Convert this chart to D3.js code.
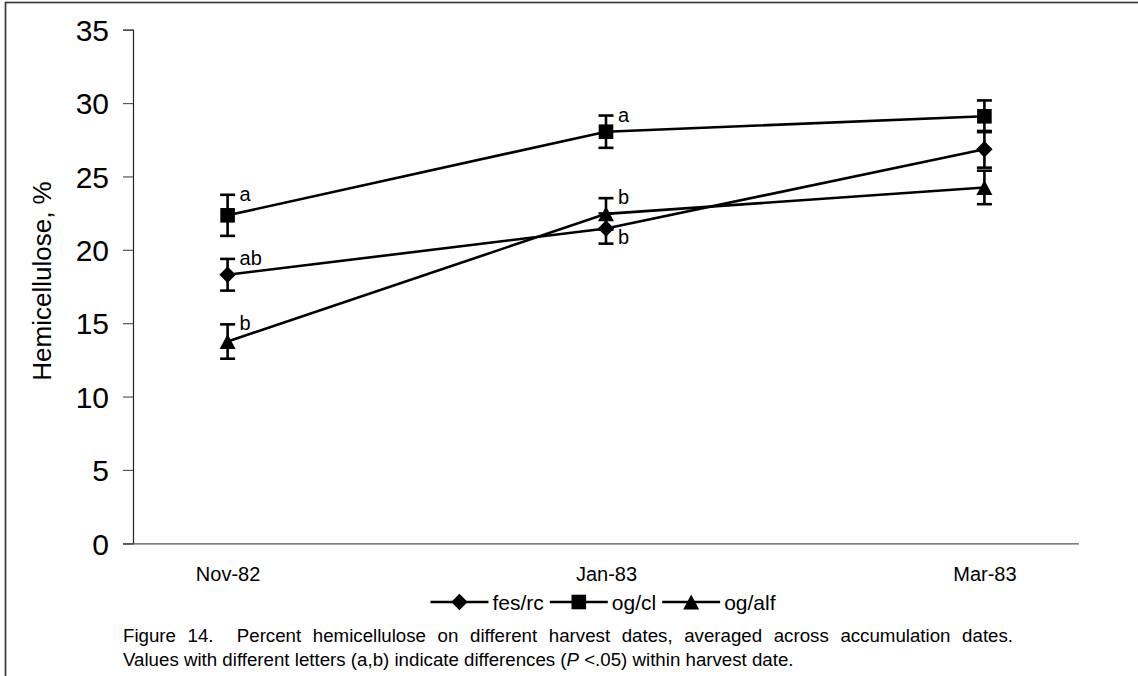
<!DOCTYPE html>
<html>
<head>
<meta charset="utf-8">
<script src="https://cdn.jsdelivr.net/npm/d3@7"></script>
<style>
  html, body { margin: 0; padding: 0; background: #fff; }
  svg { display: block; }
  text { font-family: "Liberation Sans", Arial, sans-serif; fill: #000; white-space: pre; }
</style>
</head>
<body>
<svg id="chart" width="1138" height="676"></svg>
<script>
// ---- data ----
const categories = ["Nov-82", "Jan-83", "Mar-83"];
const yTicks = [0, 5, 10, 15, 20, 25, 30, 35];
const seriesNames = ["fes/rc", "og/cl", "og/alf"];
const fesValues  = [18.3, 21.45, 26.85];
const fesErrors  = [1.08, 1.03, 1.25];
const fesLetters = ["ab", "b", ""];
const ogclValues  = [22.35, 28.05, 29.1];
const ogclErrors  = [1.4, 1.1, 1.08];
const ogclLetters = ["a", "a", ""];
const ogalfValues  = [13.75, 22.45, 24.25];
const ogalfErrors  = [1.17, 1.07, 1.14];
const ogalfLetters = ["b", "b", ""];
const yTitle = "Hemicellulose, %";
const captionLines = [
  "Figure 14.  Percent hemicellulose on different harvest dates, averaged across accumulation dates.",
  ["Values with different letters (a,b) indicate differences (", "P", " <.05) within harvest date."]
];

const series = [
  { name: seriesNames[0], values: fesValues, errors: fesErrors, letters: fesLetters, marker: "diamond" },
  { name: seriesNames[1], values: ogclValues, errors: ogclErrors, letters: ogclLetters, marker: "square" },
  { name: seriesNames[2], values: ogalfValues, errors: ogalfErrors, letters: ogalfLetters, marker: "triangle" }
];

// ---- layout ----
const svg = d3.select("#chart");
const plot = { left: 133, right: 1079, top: 29.7, bottom: 543.3 };
const FONT = '"Liberation Sans", Arial, sans-serif';

const x = d3.scalePoint().domain(categories).range([plot.left, plot.right]).padding(0.25);
const y = d3.scaleLinear().domain([0, 35]).range([plot.bottom, plot.top]);

// outer border
svg.append("rect")
  .attr("x", 5.5).attr("y", 2.5).attr("width", 2000).attr("height", 2000)
  .attr("fill", "none").attr("stroke", "#3a3a3a").attr("stroke-width", 1.7);

// marker shapes
function markerPath(type) {
  if (type === "square") {
    const h = 7.3;
    return `M${-h},${-h}H${h}V${h}H${-h}Z`;
  }
  if (type === "diamond") {
    const h = 8.2;
    return `M0,${-h}L${h},0L0,${h}L${-h},0Z`;
  }
  const w = 8, t = 7.5;
  return `M0,${-t}L${w},${t}L${-w},${t}Z`;
}

// y axis
const yAxis = d3.axisLeft(y).tickValues(yTicks).tickSize(10).tickPadding(14).tickFormat(d3.format("d"));
const gy = svg.append("g").attr("transform", `translate(${plot.left},0)`).call(yAxis);
gy.select(".domain").attr("stroke", "#222").attr("stroke-width", 1.2);
gy.selectAll(".tick line").attr("stroke", "#555").attr("stroke-width", 1.2);
gy.selectAll(".tick text").attr("font-size", 30).attr("font-family", FONT).attr("fill", "#000").attr("dy", "0.36em");

// x axis (line without tick marks)
const xAxis = d3.axisBottom(x).tickSize(0).tickPadding(0);
const gx = svg.append("g").attr("transform", `translate(0,${plot.bottom})`).call(xAxis);
gx.select(".domain").attr("d", `M${plot.left - 10},0.5H${plot.right}`).attr("stroke", "#555").attr("stroke-width", 1.3);
gx.selectAll(".tick text").attr("font-size", 20).attr("font-family", FONT).attr("fill", "#000").attr("y", 38).attr("dy", 0);

// y title
svg.append("text")
  .attr("transform", `translate(51,281) rotate(-90)`)
  .attr("text-anchor", "middle")
  .attr("font-size", 26)
  .text(yTitle);

// lines
const line = d3.line().x((d, i) => x(categories[i])).y(d => y(d));
svg.append("g").selectAll("path").data(series).join("path")
  .attr("d", s => line(s.values))
  .attr("fill", "none").attr("stroke", "#000").attr("stroke-width", 2.6);

// error bars
const capW = 7.5;
series.forEach(s => {
  const g = svg.append("g").attr("stroke", "#000").attr("stroke-width", 2.6);
  s.values.forEach((v, i) => {
    const cx = x(categories[i]);
    const y1 = y(v + s.errors[i]), y2 = y(v - s.errors[i]);
    g.append("line").attr("x1", cx).attr("x2", cx).attr("y1", y1).attr("y2", y2);
    g.append("line").attr("x1", cx - capW).attr("x2", cx + capW).attr("y1", y1).attr("y2", y1);
    g.append("line").attr("x1", cx - capW).attr("x2", cx + capW).attr("y1", y2).attr("y2", y2);
  });
});

// markers
series.forEach(s => {
  svg.append("g").selectAll("path").data(s.values).join("path")
    .attr("transform", (d, i) => `translate(${x(categories[i])},${y(d)})`)
    .attr("d", markerPath(s.marker))
    .attr("fill", "#000");
});

// significance letters
series.forEach((s, si) => {
  s.values.forEach((v, i) => {
    const letter = s.letters[i];
    if (!letter) return;
    const top = v + s.errors[i];
    const clash = series.some((o, oi) => oi !== si &&
      top >= o.values[i] - o.errors[i] && top <= o.values[i] + o.errors[i]);
    const cx = x(categories[i]) + 12;
    const yy = clash ? y(v - s.errors[i]) : y(top) + 6;
    svg.append("text").attr("x", cx).attr("y", yy).attr("font-size", 20).text(letter);
  });
});

// legend
const legend = svg.append("g");
const legY = 602, lineLen = 58, textGap = 4, itemGap = 6;
let lx = 0;
series.forEach(s => {
  const g = legend.append("g").attr("transform", `translate(${lx},0)`);
  g.append("line").attr("x1", 0).attr("x2", lineLen).attr("y1", legY).attr("y2", legY)
    .attr("stroke", "#000").attr("stroke-width", 2.6);
  g.append("path").attr("transform", `translate(${lineLen / 2},${legY})`).attr("d", markerPath(s.marker)).attr("fill", "#000");
  const t = g.append("text").attr("x", lineLen + textGap).attr("y", legY).attr("dy", "0.36em")
    .attr("font-size", 21).text(s.name);
  lx += lineLen + textGap + t.node().getComputedTextLength() + itemGap;
});
const legW = lx - itemGap;
legend.attr("transform", `translate(${603 - legW / 2},0)`);

// caption (justified first line, like the source document)
const capSize = 18.7, capLeft = 123, capRight = 1013;
const c1 = svg.append("text").attr("x", capLeft).attr("y", 642).attr("font-size", capSize).text(captionLines[0]);
const natural = c1.node().getComputedTextLength();
const nSpaces = (captionLines[0].match(/ /g) || []).length;
c1.attr("word-spacing", Math.max(0, (capRight - capLeft - natural) / nSpaces));
const c2 = svg.append("text").attr("x", capLeft).attr("y", 666).attr("font-size", capSize);
c2.append("tspan").text(captionLines[1][0]);
c2.append("tspan").attr("font-style", "italic").text(captionLines[1][1]);
c2.append("tspan").text(captionLines[1][2]);
</script>
</body>
</html>
